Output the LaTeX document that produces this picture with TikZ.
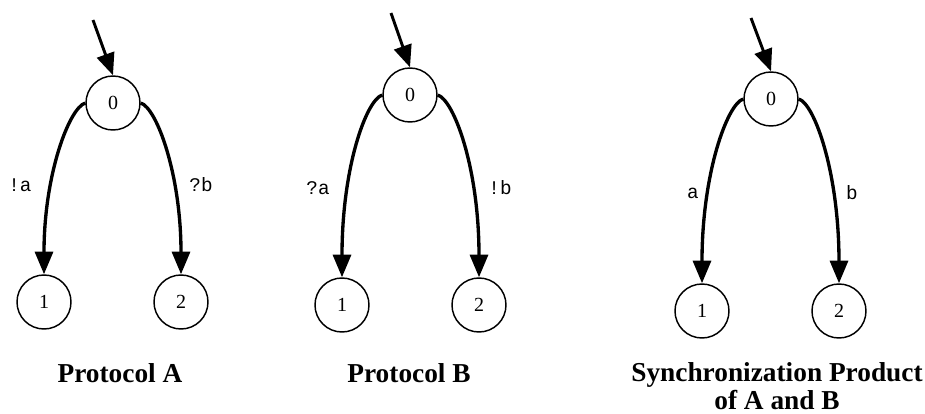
\documentclass[tikz,border=0pt]{standalone}
\usepackage{fontspec}
\setmainfont{Liberation Serif}
\newfontfamily\labelfont{Liberation Mono}
\usetikzlibrary{arrows.meta}
\tikzset{
  state/.style={circle, draw, line width=1.1pt, minimum size=40.5pt, inner sep=0pt,
    font=\fontsize{15pt}{17pt}\selectfont},
  edge/.style={line width=2.5pt, -{Triangle[length=17pt, width=13.5pt]}},
  startarrow/.style={line width=2.2pt, -{Triangle[length=16.5pt, width=13.5pt]}},
  elabel/.style={inner sep=0pt, font=\labelfont\fontsize{14.5pt}{16pt}\selectfont},
  title/.style={inner sep=0pt, align=center, font=\bfseries\fontsize{20.5pt}{21pt}\selectfont}
}
\begin{document}
\begin{tikzpicture}[x=0.75pt, y=-0.75pt]
\useasboundingbox (0,0) rectangle (925,414);
% Protocol A
\node[state] (a0) at (113,103) {0};
\node[state] (a1) at (44,302) {1};
\node[state] (a2) at (181,302) {2};
\coordinate (as) at (93,20);
\draw[startarrow] (as) -- (a0.north);
\draw[edge] (a0.west) .. controls +(-16,5) and +(0,-100) .. (a1.north);
\draw[edge] (a0.east) .. controls +(16,5) and +(0,-100) .. (a2.north);
\node[elabel] (la1) at (20,185) {!a};
\node[elabel] (la2) at (201,185) {?b};
\node[title, anchor=base] (ta) at (120,382) {Protocol A};
% Protocol B
\node[state] (b0) at (410,95) {0};
\node[state] (b1) at (342,305) {1};
\node[state] (b2) at (479,305) {2};
\coordinate (bs) at (391,13);
\draw[startarrow] (bs) -- (b0.north);
\draw[edge] (b0.west) .. controls +(-16,5) and +(0,-110) .. (b1.north);
\draw[edge] (b0.east) .. controls +(16,5) and +(0,-110) .. (b2.north);
\node[elabel] (lb1) at (318,188) {?a};
\node[elabel] (lb2) at (500,188) {!b};
\node[title, anchor=base] (tb) at (409,382) {Protocol B};
% Synchronization product
\node[state] (c0) at (771,99) {0};
\node[state] (c1) at (702,311) {1};
\node[state] (c2) at (839,311) {2};
\coordinate (cs) at (751,18);
\draw[startarrow] (cs) -- (c0.north);
\draw[edge] (c0.west) .. controls +(-16,5) and +(0,-110) .. (c1.north);
\draw[edge] (c0.east) .. controls +(16,5) and +(0,-110) .. (c2.north);
\node[elabel] (lc1) at (693,193) {a};
\node[elabel] (lc2) at (852,193) {b};
\node[title] (tc) at (777,386) {Synchronization Product\\of A and B};
\end{tikzpicture}
\end{document}
